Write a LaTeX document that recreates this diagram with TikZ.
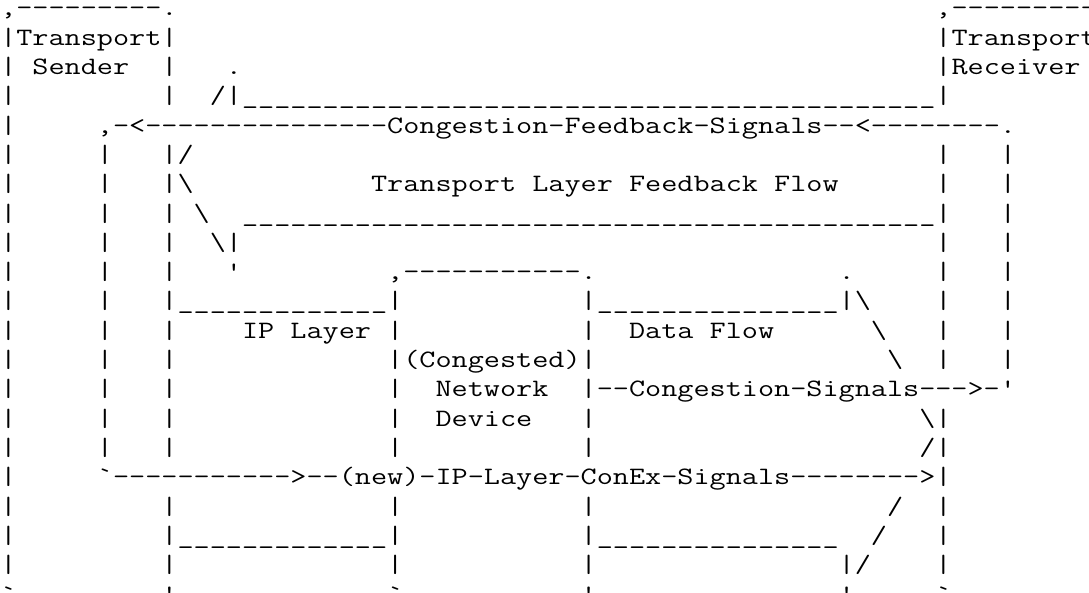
\documentclass[tikz,border=0pt]{standalone}
\usepackage{fontspec}
\setmonofont{Latin Modern Mono}
\usepackage{graphicx}
\newcommand\RepCh[2]{\ifnum#1>0 #2\expandafter\RepCh\expandafter{\the\numexpr#1-1\relax}{#2}\fi}
\newcommand\Gap[1]{\RepCh{#1}{\ }}
\newcommand\AsciiFont{\ttfamily\fontsize{25}{29.33}\selectfont}
\newcommand\Stretch[1]{\scalebox{1.2523}[1]{#1}}
\begingroup
\catcode`\_=12\relax
\catcode`\!=0\relax
\catcode`\ =13\relax
\catcode`\\=12\relax
!gdef {! }%
!gdef!RowA{,---------.!Gap{47},---------.}%
!gdef!RowB{|Transport|!Gap{47}|Transport|}%
!gdef!RowC{| Sender  |   .!Gap{43}|Receiver |}%
!gdef!RowD{|         |  /|!RepCh{43}{_}|         |}%
!gdef!RowE{|     ,-<!RepCh{15}{-}Congestion-Feedback-Signals--<!RepCh{8}{-}.     |}%
!gdef!RowF{|     |   |/!Gap{46}|   |     |}%
!gdef!RowG{|     |   |\!Gap{11}Transport Layer Feedback Flow!Gap{6}|   |     |}%
!gdef!RowH{|     |   | \  !RepCh{43}{_}|   |     |}%
!gdef!RowI{|     |   |  \|!Gap{43}|   |     |}%
!gdef!RowJ{|     |   |   '!Gap{9},!RepCh{11}{-}.!Gap{15}.!Gap{5}|   |     |}%
!gdef!RowK{|     |   |!RepCh{13}{_}|!Gap{11}|!RepCh{15}{_}|\!Gap{4}|   |     |}%
!gdef!RowL{|     |   |    IP Layer |!Gap{11}|  Data Flow!Gap{6}\!Gap{3}|   |     |}%
!gdef!RowM{|     |   |!Gap{13}|(Congested)|!Gap{18}\  |   |     |}%
!gdef!RowN{|     |   |!Gap{13}|  Network  |--Congestion-Signals--->-'!Gap{5}|}%
!gdef!RowO{|     |   |!Gap{13}|  Device   |!Gap{20}\|!Gap{9}|}%
!gdef!RowP{|     |   |!Gap{13}|!Gap{11}|!Gap{20}/|!Gap{9}|}%
!gdef!RowQ{|     `!RepCh{11}{-}>--(new)-IP-Layer-ConEx-Signals!RepCh{8}{-}>|!Gap{9}|}%
!gdef!RowR{|         |!Gap{13}|!Gap{11}|!Gap{18}/  |         |}%
!gdef!RowS{|         |!RepCh{13}{_}|!Gap{11}|!RepCh{15}{_}  /   |         |}%
!gdef!RowT{|         |!Gap{13}|!Gap{11}|!Gap{15}|/    |         |}%
!gdef!RowU{`---------'!Gap{13}`-----------'!Gap{15}'!Gap{5}`---------'}%
!endgroup
\begin{document}
\begin{tikzpicture}[x=1pt,y=1pt,
  asciirow/.style={anchor=base west,inner sep=0pt,outer sep=0pt,font=\AsciiFont,text=black}]
\fill[white] (0,0) rectangle (1089,-593);
\useasboundingbox (0,0) rectangle (1089,-593);
\clip (0,0) rectangle (1089,-593);
\node[asciirow] (rA) at (0.25,-15.70) {\Stretch{\RowA}};
\node[asciirow] (rB) at (0.25,-45.03) {\Stretch{\RowB}};
\node[asciirow] (rC) at (0.25,-74.36) {\Stretch{\RowC}};
\node[asciirow] (rD) at (0.25,-103.69) {\Stretch{\RowD}};
\node[asciirow] (rE) at (0.25,-133.02) {\Stretch{\RowE}};
\node[asciirow] (rF) at (0.25,-162.35) {\Stretch{\RowF}};
\node[asciirow] (rG) at (0.25,-191.68) {\Stretch{\RowG}};
\node[asciirow] (rH) at (0.25,-221.01) {\Stretch{\RowH}};
\node[asciirow] (rI) at (0.25,-250.34) {\Stretch{\RowI}};
\node[asciirow] (rJ) at (0.25,-279.67) {\Stretch{\RowJ}};
\node[asciirow] (rK) at (0.25,-309.00) {\Stretch{\RowK}};
\node[asciirow] (rL) at (0.25,-338.33) {\Stretch{\RowL}};
\node[asciirow] (rM) at (0.25,-367.66) {\Stretch{\RowM}};
\node[asciirow] (rN) at (0.25,-396.99) {\Stretch{\RowN}};
\node[asciirow] (rO) at (0.25,-426.32) {\Stretch{\RowO}};
\node[asciirow] (rP) at (0.25,-455.65) {\Stretch{\RowP}};
\node[asciirow] (rQ) at (0.25,-484.98) {\Stretch{\RowQ}};
\node[asciirow] (rR) at (0.25,-514.31) {\Stretch{\RowR}};
\node[asciirow] (rS) at (0.25,-543.64) {\Stretch{\RowS}};
\node[asciirow] (rT) at (0.25,-572.97) {\Stretch{\RowT}};
\node[asciirow] (rU) at (0.25,-602.30) {\Stretch{\RowU}};
\end{tikzpicture}
\end{document}
